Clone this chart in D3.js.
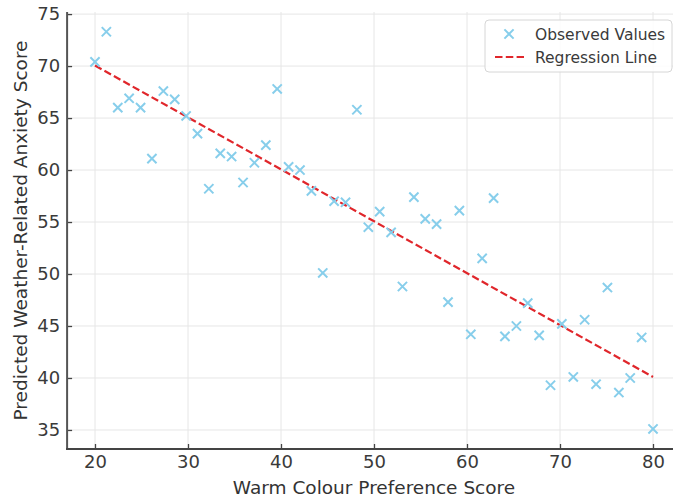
<!DOCTYPE html>
<html><head><meta charset="utf-8">
<script src="https://cdn.jsdelivr.net/npm/d3@7"></script>
<style>body{margin:0;background:#fff}svg{display:block;font-family:"DejaVu Sans",sans-serif}</style>
</head><body>
<svg id="c" width="673" height="497"></svg>
<script>
const xValues = [20.00,21.22,22.45,23.67,24.90,26.12,27.35,28.57,29.80,31.02,32.24,33.47,34.69,35.92,37.14,38.37,39.59,40.82,42.04,43.27,44.49,45.71,46.94,48.16,49.39,50.61,51.84,53.06,54.29,55.51,56.73,57.96,59.18,60.41,61.63,62.86,64.08,65.31,66.53,67.76,68.98,70.20,71.43,72.65,73.88,75.10,76.33,77.55,78.78,80.00];
const yValues = [70.4,73.3,66.0,66.9,66.0,61.1,67.6,66.8,65.2,63.5,58.2,61.6,61.3,58.8,60.7,62.4,67.8,60.3,60.0,58.0,50.1,57.0,56.9,65.8,54.5,56.0,54.0,48.8,57.4,55.3,54.8,47.3,56.1,44.2,51.5,57.3,44.0,45.0,47.2,44.1,39.3,45.2,40.1,45.6,39.4,48.7,38.6,40.0,43.9,35.1];
const lineX = [20, 80];
const lineY = [70.05, 40.1];
const xTicks = [20,30,40,50,60,70,80];
const yTicks = [35,40,45,50,55,60,65,70,75];
const seriesNames = ["Observed Values","Regression Line"];
const xLabel = "Warm Colour Preference Score";
const yLabel = "Predicted Weather-Related Anxiety Score";

const svg = d3.select("#c");
const L = 67.1, R = 680.9, T = 12, B = 449;
const x = d3.scaleLinear().domain([17, 83]).range([L, R]);
const y = d3.scaleLinear().domain([33.17, 75.2]).range([B, T]);

// grid
const g = svg.append("g");
g.selectAll(".vg").data(xTicks).join("line")
  .attr("x1", d => x(d)).attr("x2", d => x(d)).attr("y1", T).attr("y2", B)
  .attr("stroke", "#e6e6e6").attr("stroke-width", 1);
g.selectAll(".hg").data(yTicks).join("line")
  .attr("x1", L).attr("x2", R).attr("y1", d => y(d)).attr("y2", d => y(d))
  .attr("stroke", "#e6e6e6").attr("stroke-width", 1);

// axes
const xa = svg.append("g").attr("transform", `translate(0,${B})`)
  .call(d3.axisBottom(x).tickValues(xTicks).tickSizeInner(-5).tickSizeOuter(0).tickPadding(6));
const ya = svg.append("g").attr("transform", `translate(${L},0)`)
  .call(d3.axisLeft(y).tickValues(yTicks).tickSizeInner(-5).tickSizeOuter(0).tickPadding(7));
[xa, ya].forEach(a => {
  a.select(".domain").remove();
  a.selectAll(".tick line").attr("stroke", "#444").attr("stroke-width", 1.3);
  a.selectAll(".tick text").attr("fill", "#3a3a3a").style("font-size", "18px").style("font-family", "DejaVu Sans");
});

// spines
svg.append("line").attr("x1", L).attr("x2", L).attr("y1", T).attr("y2", B + 1)
  .attr("stroke", "#555").attr("stroke-width", 2);
svg.append("line").attr("x1", L - 1).attr("x2", R).attr("y1", B).attr("y2", B)
  .attr("stroke", "#444").attr("stroke-width", 2);

// regression line
const lineData = lineX.map((d, i) => [d, lineY[i]]);
svg.append("path").datum(lineData)
  .attr("d", d3.line().x(d => x(d[0])).y(d => y(d[1])))
  .attr("fill", "none").attr("stroke", "#e0262b").attr("stroke-width", 2.2)
  .attr("stroke-dasharray", "7.5,3.3");

// points
const cross = "M-4.6,-4.6L4.6,4.6M-4.6,4.6L4.6,-4.6";
svg.append("g").selectAll("path").data(xValues.map((d, i) => [d, yValues[i]])).join("path")
  .attr("transform", d => `translate(${x(d[0])},${y(d[1])})`)
  .attr("d", cross).attr("fill", "none").attr("stroke", "#87CEEB").attr("stroke-width", 2);

// axis labels
svg.append("text").attr("x", (L + R) / 2).attr("y", 494).attr("text-anchor", "middle")
  .attr("fill", "#333").style("font-size", "18.5px").text(xLabel);
svg.append("text").attr("transform", `translate(27,${(T + B) / 2}) rotate(-90)`).attr("text-anchor", "middle")
  .attr("fill", "#333").style("font-size", "18.5px").text(yLabel);

// legend
const lg = svg.append("g");
lg.append("rect").attr("x", 485).attr("y", 20).attr("width", 187).attr("height", 52).attr("rx", 4)
  .attr("fill", "#fff").attr("fill-opacity", 0.85).attr("stroke", "#d6d6d6").attr("stroke-width", 1);
lg.append("path").attr("transform", "translate(509,34)").attr("d", cross)
  .attr("fill", "none").attr("stroke", "#87CEEB").attr("stroke-width", 2);
lg.append("line").attr("x1", 495).attr("x2", 524).attr("y1", 57).attr("y2", 57)
  .attr("stroke", "#e0262b").attr("stroke-width", 2.2).attr("stroke-dasharray", "7.5,3.3");
lg.selectAll("text.lt").data(seriesNames).join("text")
  .attr("x", 535).attr("y", (d, i) => 34 + i * 23).attr("dy", "0.36em")
  .attr("fill", "#3a3a3a").style("font-size", "15.5px").text(d => d);
</script>
</body></html>
